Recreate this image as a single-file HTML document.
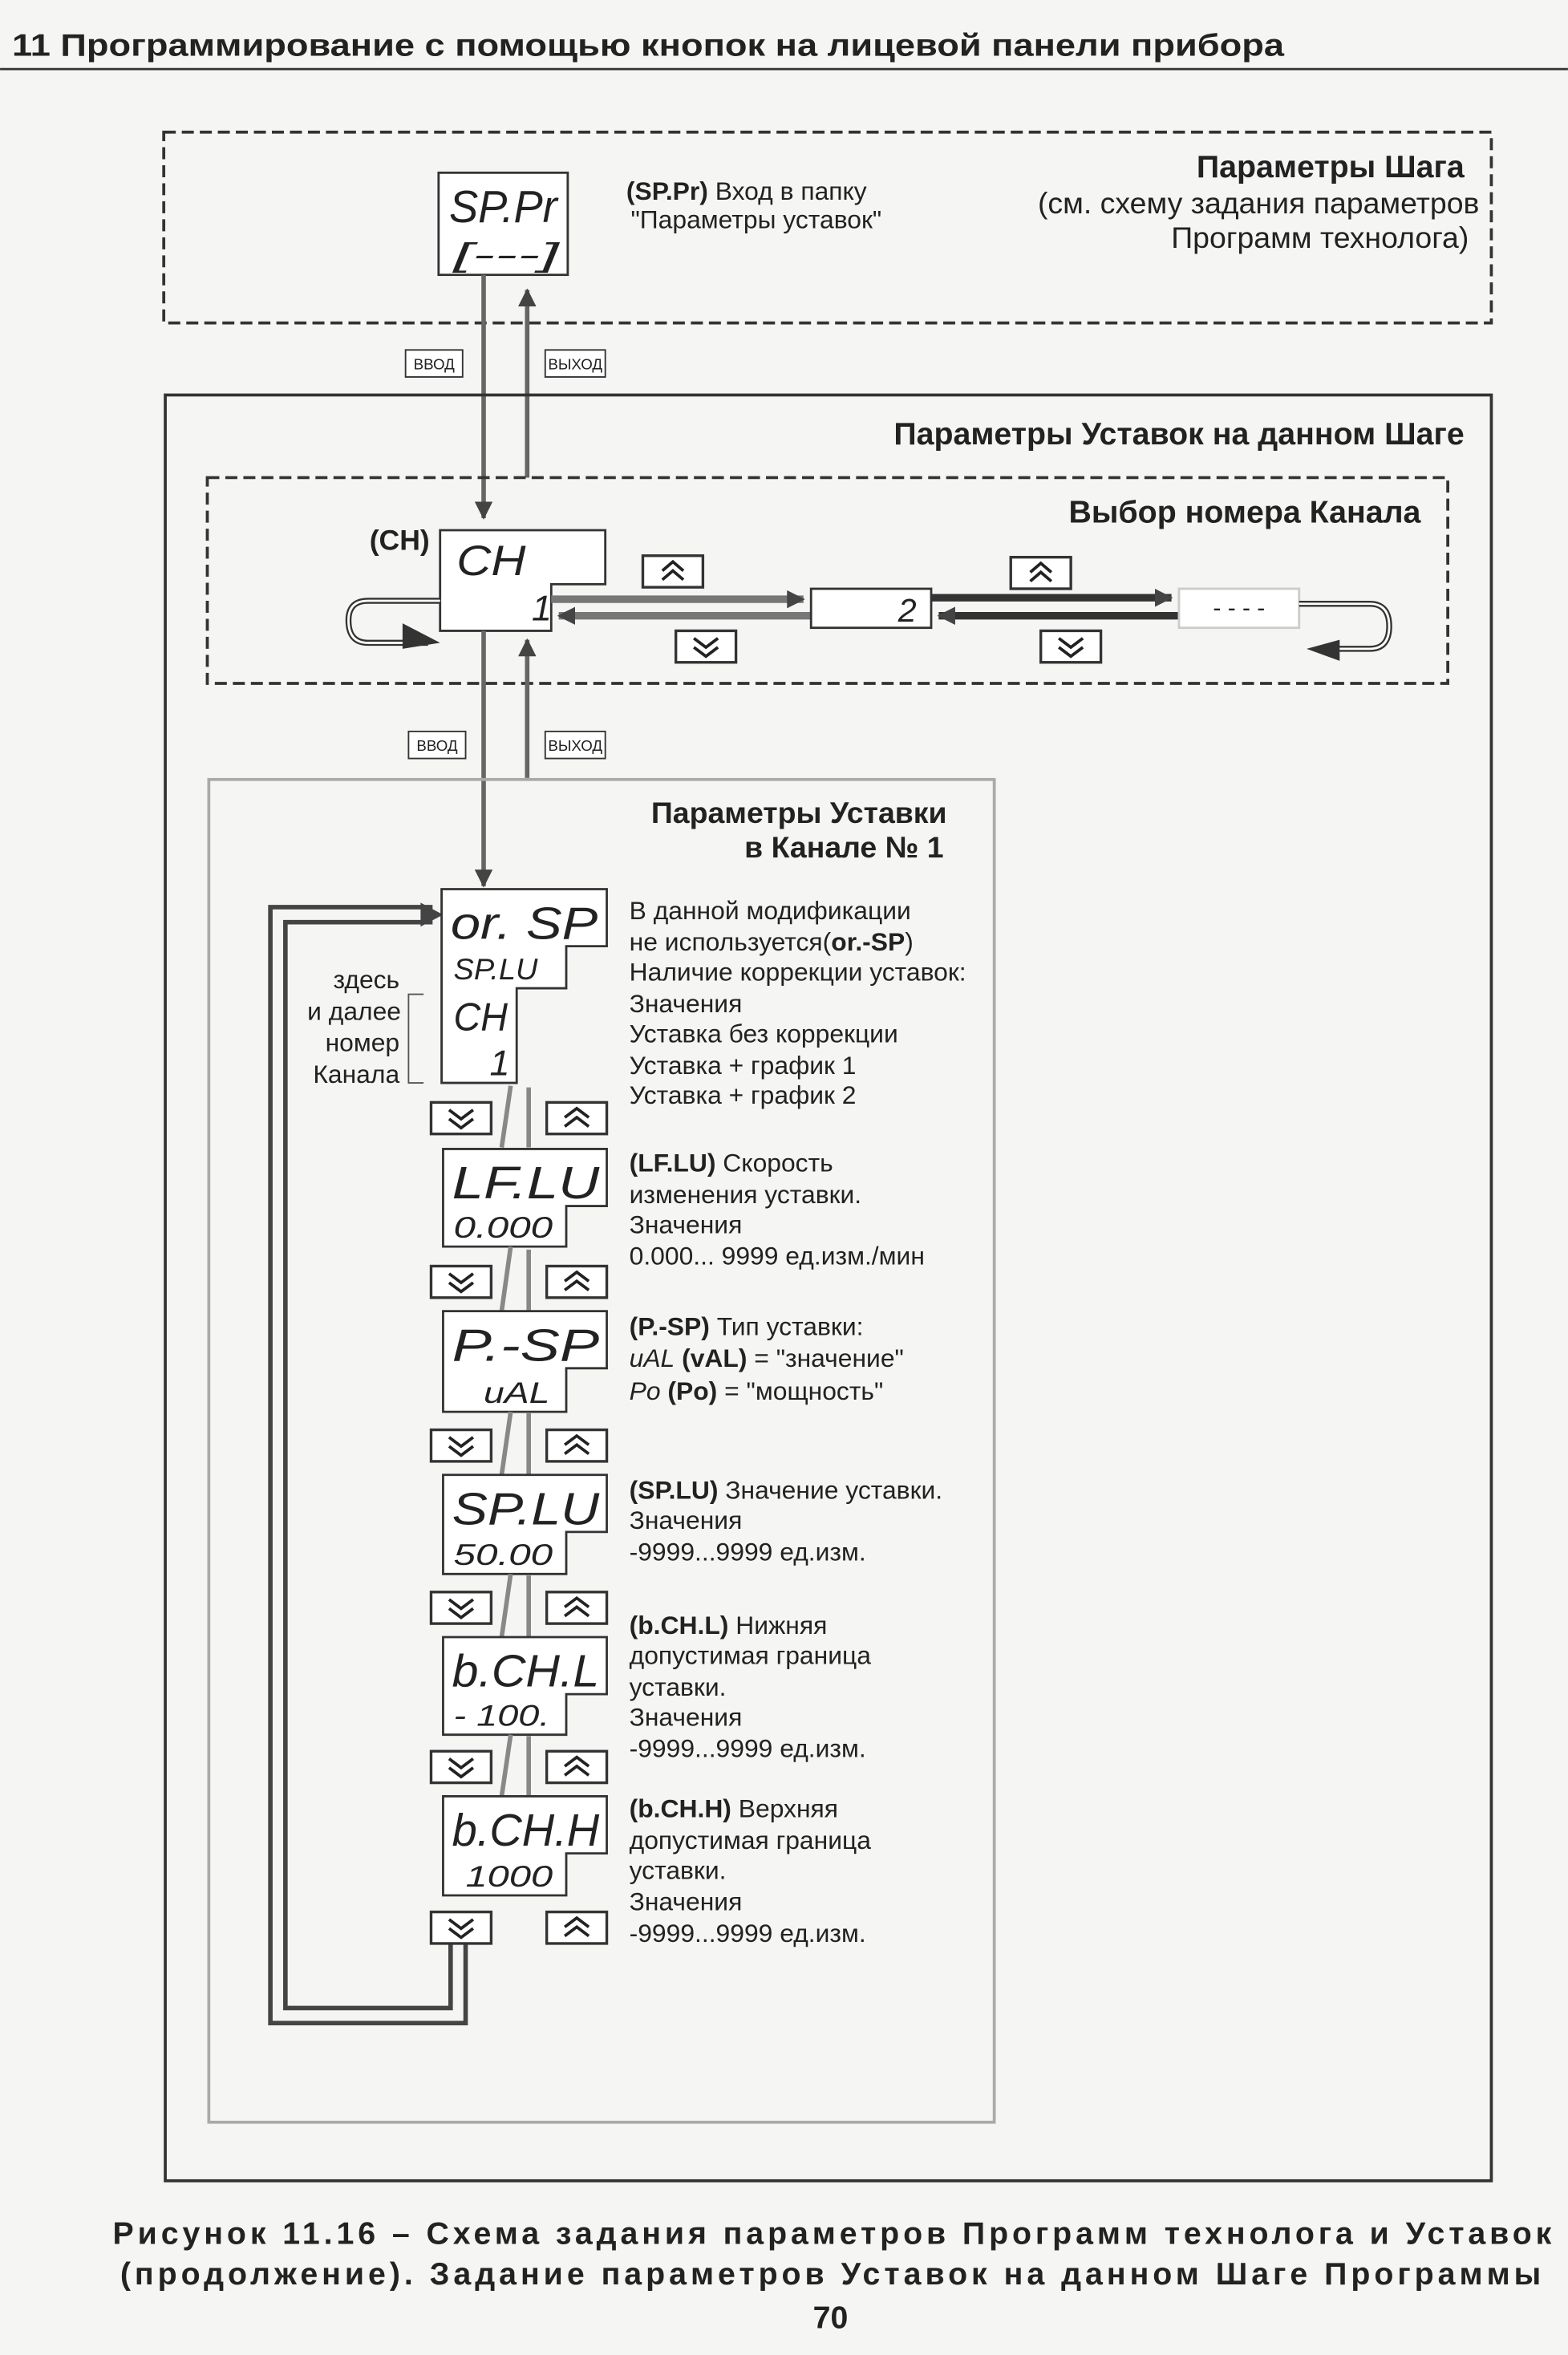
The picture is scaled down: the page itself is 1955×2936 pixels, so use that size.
<!DOCTYPE html>
<html><head><meta charset="utf-8"><style>
html,body{margin:0;padding:0;background:#f5f5f3;}
svg{display:block;}
text{font-family:"Liberation Sans Narrow","Liberation Sans",sans-serif;fill:#222;}
.b{font-weight:bold;}
.seg{font-family:"Liberation Sans","DejaVu Sans",sans-serif;font-style:italic;fill:#222;}
</style></head><body>
<svg width="1955" height="2936" viewBox="0 0 1044 1568" xmlns="http://www.w3.org/2000/svg">
<defs>
<marker id="ah2" markerWidth="12" markerHeight="12" refX="11" refY="6" orient="auto" markerUnits="userSpaceOnUse"><path d="M0,0 L12,6 L0,12 z" fill="#444"/></marker>
<g id="dn"><rect x="0" y="0" width="40" height="21" fill="#fff" stroke="#333" stroke-width="1.8"/><path d="M12,5 L20,11 L28,5 M12,11 L20,17 L28,11" fill="none" stroke="#222" stroke-width="2"/></g>
<g id="up"><rect x="0" y="0" width="40" height="21" fill="#fff" stroke="#333" stroke-width="1.8"/><path d="M12,10 L20,4 L28,10 M12,16 L20,10 L28,16" fill="none" stroke="#222" stroke-width="2"/></g>
<g id="upv"><rect x="0" y="0" width="40" height="21" fill="#fff" stroke="#333" stroke-width="1.8"/><path d="M13,10 L20,4 L27,10 M13,16 L20,10 L27,16" fill="none" stroke="#222" stroke-width="2"/></g>
</defs>
<rect width="1044" height="1568" fill="#f5f5f3"/>
<text x="8" y="37" font-size="21" font-weight="bold" textLength="847" lengthAdjust="spacingAndGlyphs" style="font-family:'Liberation Sans',sans-serif">11  Программирование с помощью кнопок на лицевой панели прибора</text>
<line x1="0" y1="46" x2="1044" y2="46" stroke="#333" stroke-width="1.5"/>

<rect x="109" y="88" width="884" height="127" fill="none" stroke="#333" stroke-width="2" stroke-dasharray="8,4"/>
<rect x="292" y="115" width="86" height="68" fill="#fff" stroke="#333" stroke-width="1.5"/>
<text x="299" y="148" class="seg" font-size="30" textLength="72" lengthAdjust="spacingAndGlyphs">SP.Pr</text>
<text x="302" y="177" class="seg" font-size="22" textLength="70" lengthAdjust="spacingAndGlyphs">[---]</text>
<text x="417" y="133" font-size="17"><tspan class="b">(SP.Pr)</tspan> Вход в папку</text>
<text x="420" y="152" font-size="17">"Параметры уставок"</text>
<text x="975" y="118" font-size="21" class="b" text-anchor="end">Параметры Шага</text>
<text x="985" y="142" font-size="20" text-anchor="end">(см. схему задания параметров</text>
<text x="978" y="165" font-size="20" text-anchor="end">Программ технолога)</text>

<line x1="322" y1="183" x2="322" y2="345" stroke="#666" stroke-width="3" marker-end="url(#ah2)"/>
<line x1="351" y1="318" x2="351" y2="193" stroke="#666" stroke-width="3" marker-end="url(#ah2)"/>
<rect x="270" y="233" width="38" height="18" fill="#fff" stroke="#333"/><text x="289" y="246" font-size="10" text-anchor="middle">ВВОД</text>
<rect x="363" y="233" width="40" height="18" fill="#fff" stroke="#333"/><text x="383" y="246" font-size="10" text-anchor="middle">ВЫХОД</text>

<rect x="110" y="263" width="883" height="1189" fill="none" stroke="#333" stroke-width="2"/>
<text x="975" y="296" font-size="21" class="b" text-anchor="end">Параметры Уставок на данном Шаге</text>

<rect x="138" y="318" width="826" height="137" fill="none" stroke="#333" stroke-width="2" stroke-dasharray="8,4"/>
<text x="946" y="348" font-size="21" class="b" text-anchor="end">Выбор номера Канала</text>
<text x="246" y="366" font-size="19" class="b">(CH)</text>
<path d="M293,353 H403 V389 H367 V420 H293 Z" fill="#fff" stroke="#333" stroke-width="1.5"/>
<text x="304" y="383" class="seg" font-size="28" textLength="46" lengthAdjust="spacingAndGlyphs">CH</text>
<text x="354" y="413" class="seg" font-size="24">1</text>
<path d="M293,400 H245 Q232,400 232,413 Q232,428 245,428 H285" fill="none" stroke="#333" stroke-width="4"/>
<path d="M293,400 H245 Q232,400 232,413 Q232,428 245,428 H285" fill="none" stroke="#fff" stroke-width="1.5"/>
<path d="M268,415 L293,428 L268,432 z" fill="#333"/>
<line x1="367" y1="399" x2="535" y2="399" stroke="#777" stroke-width="5" marker-end="url(#ah2)"/>
<line x1="540" y1="410" x2="372" y2="410" stroke="#777" stroke-width="5" marker-end="url(#ah2)"/>
<use href="#upv" x="428" y="370"/>
<use href="#dn" x="450" y="420"/>
<rect x="540" y="392" width="80" height="26" fill="#fff" stroke="#333" stroke-width="1.5"/>
<text x="598" y="414" class="seg" font-size="22">2</text>
<line x1="620" y1="398" x2="780" y2="398" stroke="#333" stroke-width="5" marker-end="url(#ah2)"/>
<line x1="785" y1="410" x2="625" y2="410" stroke="#333" stroke-width="5" marker-end="url(#ah2)"/>
<use href="#upv" x="673" y="371"/>
<use href="#dn" x="693" y="420"/>
<rect x="785" y="392" width="80" height="26" fill="#fff" stroke="#ccc" stroke-width="1.5"/>
<text x="825" y="410" font-size="16" text-anchor="middle">- - - -</text>
<path d="M865,402 H912 Q925,402 925,417 Q925,432 912,432 H880" fill="none" stroke="#333" stroke-width="4"/>
<path d="M865,402 H912 Q925,402 925,417 Q925,432 912,432 H880" fill="none" stroke="#fff" stroke-width="1.5"/>
<path d="M892,426 L870,432 L892,440 z" fill="#333"/>

<line x1="322" y1="420" x2="322" y2="590" stroke="#666" stroke-width="3" marker-end="url(#ah2)"/>
<line x1="351" y1="518" x2="351" y2="426" stroke="#666" stroke-width="3" marker-end="url(#ah2)"/>
<rect x="272" y="487" width="38" height="18" fill="#fff" stroke="#333"/><text x="291" y="500" font-size="10" text-anchor="middle">ВВОД</text>
<rect x="363" y="487" width="40" height="18" fill="#fff" stroke="#333"/><text x="383" y="500" font-size="10" text-anchor="middle">ВЫХОД</text>

<rect x="139" y="519" width="523" height="894" fill="none" stroke="#aaa" stroke-width="2"/>
<text x="532" y="548" font-size="20" class="b" text-anchor="middle">Параметры Уставки</text>
<text x="562" y="571" font-size="20" class="b" text-anchor="middle">в Канале № 1</text>

<path d="M305,1294 V1342 H185 V609 H288" fill="none" stroke="#444" stroke-width="13"/>
<path d="M305,1294 V1342 H185 V609 H290" fill="none" stroke="#f5f5f3" stroke-width="7"/>
<path d="M280,601 L295,609 L280,617 z" fill="#444"/>

<path d="M294,592 H404 V630 H377 V658 H344 V721 H294 Z" fill="#fff" stroke="#333" stroke-width="1.5"/>
<text x="300" y="625" class="seg" font-size="30" textLength="98" lengthAdjust="spacingAndGlyphs">or. SP</text>
<text x="302" y="652" class="seg" font-size="20" textLength="56" lengthAdjust="spacingAndGlyphs">SP.LU</text>
<text x="302" y="686" class="seg" font-size="26" textLength="36" lengthAdjust="spacingAndGlyphs">CH</text>
<text x="326" y="716" class="seg" font-size="24">1</text>
<text x="266" y="658" font-size="17" text-anchor="end">здесь</text>
<text x="267" y="679" font-size="17" text-anchor="end">и далее</text>
<text x="266" y="700" font-size="17" text-anchor="end">номер</text>
<text x="266" y="721" font-size="17" text-anchor="end">Канала</text>
<path d="M282,662 H272 V721 H282" fill="none" stroke="#555" stroke-width="1"/>
<g font-size="17">
<text x="419" y="612">В данной модификации</text>
<text x="419" y="633">не используется(<tspan class="b">or.-SP</tspan>)</text>
<text x="419" y="653">Наличие коррекции уставок:</text>
<text x="419" y="674">Значения</text>
<text x="419" y="694">Уставка без коррекции</text>
<text x="419" y="715">Уставка + график 1</text>
<text x="419" y="735">Уставка + график 2</text>
</g>

<use href="#dn" x="287" y="734"/><use href="#up" x="364" y="734"/>
<line x1="340" y1="723" x2="334" y2="764" stroke="#888" stroke-width="3"/><line x1="352" y1="764" x2="352" y2="724" stroke="#888" stroke-width="3"/>
<path d="M295,765 H404 V803 H377 V830 H295 Z" fill="#fff" stroke="#333" stroke-width="1.5"/>
<text x="301" y="798" class="seg" font-size="30" textLength="98" lengthAdjust="spacingAndGlyphs">LF.LU</text>
<text x="302" y="824" class="seg" font-size="20" textLength="66" lengthAdjust="spacingAndGlyphs">0.000</text>
<g font-size="17"><text x="419" y="780"><tspan class="b">(LF.LU)</tspan> Скорость</text><text x="419" y="801">изменения уставки.</text><text x="419" y="821">Значения</text><text x="419" y="842">0.000... 9999 ед.изм./мин</text></g>

<use href="#dn" x="287" y="843"/><use href="#up" x="364" y="843"/>
<line x1="340" y1="830" x2="334" y2="873" stroke="#888" stroke-width="3"/><line x1="352" y1="873" x2="352" y2="832" stroke="#888" stroke-width="3"/>
<path d="M295,873 H404 V911 H377 V940 H295 Z" fill="#fff" stroke="#333" stroke-width="1.5"/>
<text x="301" y="906" class="seg" font-size="30" textLength="98" lengthAdjust="spacingAndGlyphs">P.-SP</text>
<text x="322" y="934" class="seg" font-size="20" textLength="44" lengthAdjust="spacingAndGlyphs">uAL</text>
<g font-size="17"><text x="419" y="889"><tspan class="b">(P.-SP)</tspan> Тип уставки:</text><text x="419" y="910"><tspan class="seg">uAL</tspan> <tspan class="b">(vAL)</tspan> = "значение"</text><text x="419" y="932"><tspan class="seg">Po</tspan>  <tspan class="b">(Po)</tspan>  = "мощность"</text></g>

<use href="#dn" x="287" y="952"/><use href="#up" x="364" y="952"/>
<line x1="340" y1="940" x2="334" y2="982" stroke="#888" stroke-width="3"/><line x1="352" y1="982" x2="352" y2="941" stroke="#888" stroke-width="3"/>
<path d="M295,982 H404 V1020 H377 V1048 H295 Z" fill="#fff" stroke="#333" stroke-width="1.5"/>
<text x="301" y="1015" class="seg" font-size="30" textLength="98" lengthAdjust="spacingAndGlyphs">SP.LU</text>
<text x="302" y="1042" class="seg" font-size="20" textLength="66" lengthAdjust="spacingAndGlyphs">50.00</text>
<g font-size="17"><text x="419" y="998"><tspan class="b">(SP.LU)</tspan> Значение уставки.</text><text x="419" y="1018">Значения</text><text x="419" y="1039">-9999...9999 ед.изм.</text></g>

<use href="#dn" x="287" y="1060"/><use href="#up" x="364" y="1060"/>
<line x1="340" y1="1048" x2="334" y2="1090" stroke="#888" stroke-width="3"/><line x1="352" y1="1090" x2="352" y2="1049" stroke="#888" stroke-width="3"/>
<path d="M295,1090 H404 V1128 H377 V1155 H295 Z" fill="#fff" stroke="#333" stroke-width="1.5"/>
<text x="301" y="1123" class="seg" font-size="30" textLength="98" lengthAdjust="spacingAndGlyphs">b.CH.L</text>
<text x="302" y="1149" class="seg" font-size="20" textLength="64" lengthAdjust="spacingAndGlyphs">- 100.</text>
<g font-size="17"><text x="419" y="1088"><tspan class="b">(b.CH.L)</tspan> Нижняя</text><text x="419" y="1108">допустимая граница</text><text x="419" y="1129">уставки.</text><text x="419" y="1149">Значения</text><text x="419" y="1170">-9999...9999 ед.изм.</text></g>

<use href="#dn" x="287" y="1166"/><use href="#up" x="364" y="1166"/>
<line x1="340" y1="1155" x2="334" y2="1196" stroke="#888" stroke-width="3"/><line x1="352" y1="1196" x2="352" y2="1156" stroke="#888" stroke-width="3"/>
<path d="M295,1196 H404 V1234 H377 V1262 H295 Z" fill="#fff" stroke="#333" stroke-width="1.5"/>
<text x="301" y="1229" class="seg" font-size="30" textLength="98" lengthAdjust="spacingAndGlyphs">b.CH.H</text>
<text x="310" y="1256" class="seg" font-size="20" textLength="58" lengthAdjust="spacingAndGlyphs">1000</text>
<g font-size="17"><text x="419" y="1210"><tspan class="b">(b.CH.H)</tspan> Верхняя</text><text x="419" y="1231">допустимая граница</text><text x="419" y="1251">уставки.</text><text x="419" y="1272">Значения</text><text x="419" y="1293">-9999...9999 ед.изм.</text></g>

<use href="#dn" x="287" y="1273"/><use href="#up" x="364" y="1273"/>

<g font-size="21" font-weight="bold">
<text x="75" y="1494" textLength="958" lengthAdjust="spacing" style="font-family:'Liberation Sans',sans-serif">Рисунок 11.16 – Схема задания параметров Программ технолога и Уставок</text>
<text x="80" y="1521" textLength="946" lengthAdjust="spacing" style="font-family:'Liberation Sans',sans-serif">(продолжение). Задание параметров Уставок на данном Шаге Программы</text>
<text x="553" y="1550" text-anchor="middle" style="font-family:'Liberation Sans',sans-serif">70</text>
</g>
</svg>
</body></html>
